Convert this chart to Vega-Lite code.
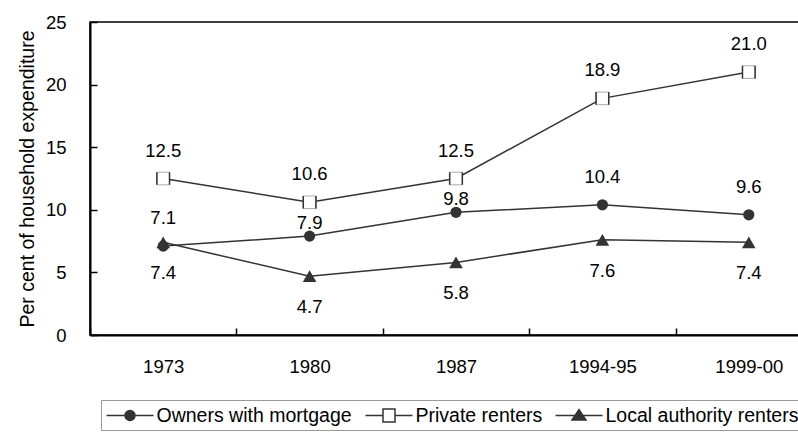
{
  "$schema": "https://vega.github.io/schema/vega-lite/v6.json",
  "autosize": {"type": "none"},
  "padding": {"left": 90, "top": 22, "right": 0, "bottom": 97},
  "width": 732,
  "height": 313,
  "background": "white",
  "config": {
    "view": {"stroke": "black", "strokeWidth": 1.5},
    "font": "Liberation Sans",
    "axis": {"labelFont": "Liberation Sans", "titleFont": "Liberation Sans", "labelColor": "black", "titleColor": "black", "domainColor": "black", "tickColor": "black", "grid": false}
  },
  "data": {
    "values": [
      {"year": "1973", "series": "Owners with mortgage", "value": 7.1},
      {"year": "1980", "series": "Owners with mortgage", "value": 7.9},
      {"year": "1987", "series": "Owners with mortgage", "value": 9.8},
      {"year": "1994-95", "series": "Owners with mortgage", "value": 10.4},
      {"year": "1999-00", "series": "Owners with mortgage", "value": 9.6},
      {"year": "1973", "series": "Private renters", "value": 12.5},
      {"year": "1980", "series": "Private renters", "value": 10.6},
      {"year": "1987", "series": "Private renters", "value": 12.5},
      {"year": "1994-95", "series": "Private renters", "value": 18.9},
      {"year": "1999-00", "series": "Private renters", "value": 21.0},
      {"year": "1973", "series": "Local authority renters", "value": 7.4},
      {"year": "1980", "series": "Local authority renters", "value": 4.7},
      {"year": "1987", "series": "Local authority renters", "value": 5.8},
      {"year": "1994-95", "series": "Local authority renters", "value": 7.6},
      {"year": "1999-00", "series": "Local authority renters", "value": 7.4}
    ]
  },
  "encoding": {
    "x": {
      "field": "year", "type": "ordinal", "bandPosition": 0.5,
      "sort": ["1973", "1980", "1987", "1994-95", "1999-00"],
      "scale": {"type": "band", "paddingInner": 0, "paddingOuter": 0},
      "axis": {"title": null, "labelAngle": 0, "labelFontSize": 18.5, "labelPadding": 29, "tickBand": "extent", "tickSize": -7, "tickWidth": 1.5, "domainWidth": 2}
    },
    "y": {
      "field": "value", "type": "quantitative",
      "scale": {"domain": [0, 25], "nice": false},
      "axis": {"title": "Per cent of household expenditure", "titleFontSize": 19.5, "titleFontWeight": "normal", "titlePadding": 8, "values": [0, 5, 10, 15, 20, 25], "labelFontSize": 18.5, "labelPadding": 31, "tickSize": -7, "tickWidth": 1.5, "domainWidth": 2}
    }
  },
  "layer": [
    {
      "mark": {"type": "line", "strokeWidth": 1.5},
      "encoding": {
        "color": {
          "field": "series", "type": "nominal",
          "sort": ["Owners with mortgage", "Private renters", "Local authority renters"],
          "scale": {"range": ["#333333", "#333333", "#333333"]},
          "legend": {
            "title": null, "orient": "none", "legendX": 11, "legendY": 378,
            "direction": "horizontal", "columns": 3, "columnPadding": 10, "gridAlign": "none",
            "labelFont": "Liberation Sans", "labelFontSize": 19.5, "labelColor": "black", "labelOffset": 29, "labelLimit": 400,
            "symbolSize": 400, "symbolStrokeWidth": 1.5, "padding": 4.5,
            "strokeColor": "#999999",
            "encode": {
              "symbols": {
                "update": {
                  "shape": {"signal": "datum.value === 'Owners with mortgage' ? 'M-1,0H3.7M0.85,0A0.5,0.5 0 1,0 1.85,0A0.5,0.5 0 1,0 0.85,0Z' : datum.value === 'Private renters' ? 'M-1,0H0.75M1.95,0H3.7M0.75,-0.65H1.95V0.65H0.75Z' : 'M-1,0H3.7M0.65,0.45L1.35,-0.6L2.05,0.45Z'"},
                  "fill": {"signal": "datum.value === 'Private renters' ? 'white' : '#333333'"},
                  "stroke": {"value": "#333333"},
                  "strokeWidth": {"value": 1.5},
                  "size": {"value": 400}
                }
              }
            }
          }
        }
      }
    },
    {
      "transform": [{"filter": "datum.series === 'Owners with mortgage'"}],
      "mark": {"type": "point", "shape": "circle", "filled": true, "color": "#333333", "size": 125, "opacity": 1}
    },
    {
      "transform": [{"filter": "datum.series === 'Local authority renters'"}],
      "mark": {"type": "point", "shape": "triangle-up", "filled": true, "color": "#333333", "size": 185, "opacity": 1}
    },
    {
      "transform": [{"filter": "datum.series === 'Private renters'"}],
      "mark": {"type": "point", "shape": "square", "filled": true, "fill": "white", "stroke": "#aaaaaa", "strokeWidth": 1, "size": 160, "opacity": 1}
    },
    {
      "transform": [{"filter": "datum.series === 'Private renters'"}],
      "mark": {"type": "point", "shape": "M-1,-1V1M1,-1V1", "filled": false, "stroke": "#333333", "strokeWidth": 1.5, "size": 160, "opacity": 1}
    },
    {
      "transform": [{"filter": "datum.series === 'Private renters' || (datum.series === 'Owners with mortgage' && datum.year !== '1980' && datum.year !== '1987')"}],
      "mark": {"type": "text", "baseline": "middle", "dy": -28, "fontSize": 18.5, "font": "Liberation Sans", "color": "black"},
      "encoding": {"text": {"field": "value", "type": "quantitative", "format": ".1f"}}
    },
    {
      "transform": [{"filter": "datum.series === 'Owners with mortgage' && (datum.year === '1980' || datum.year === '1987')"}],
      "mark": {"type": "text", "baseline": "middle", "dy": -13, "fontSize": 18.5, "font": "Liberation Sans", "color": "black"},
      "encoding": {"text": {"field": "value", "type": "quantitative", "format": ".1f"}}
    },
    {
      "transform": [{"filter": "datum.series === 'Local authority renters'"}],
      "mark": {"type": "text", "baseline": "middle", "dy": 31, "fontSize": 18.5, "font": "Liberation Sans", "color": "black"},
      "encoding": {"text": {"field": "value", "type": "quantitative", "format": ".1f"}}
    }
  ]
}
